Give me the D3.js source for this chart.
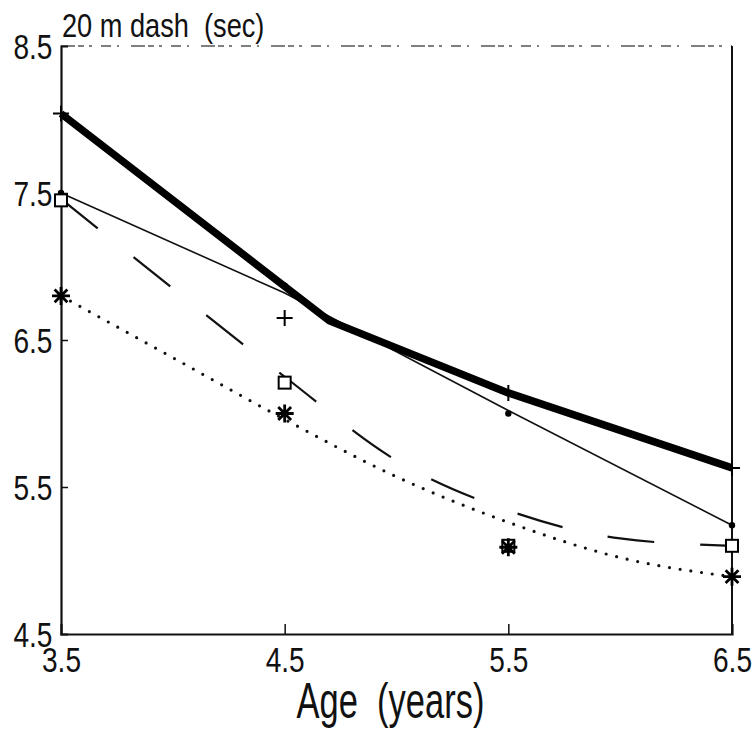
<!DOCTYPE html>
<meta charset="utf-8">
<script src="https://d3js.org/d3.v7.min.js"></script>
<style>
  body { margin: 0; background: #fff; }
  text { font-family: "Liberation Sans", Arial, sans-serif; fill: #111; white-space: pre; }
</style>
<div id="my_dataviz"></div>
<script>

// ages where the groups were measured
var ages = [3.5, 4.5, 5.5, 6.5];

// group means (markers)
var plusMeans   = [8.04, 6.65, 6.14, 5.63];
var dotMeans    = [7.50, 6.87, 6.00, 5.24];
var squareMeans = [7.45, 6.21, 5.10, 5.10];
var starMeans   = [6.80, 6.00, 5.09, 4.89];

// thick line (has a bend near 4.7 years)
var thickAges   = [3.5, 4.7, 5.5, 6.5];
var thickValues = [8.04, 6.63, 6.14, 5.63];

// thin line joins the dot means
var thinValues  = [7.50, 6.82, 6.02, 5.24];

// fitted curves, read every half year
var curveAges    = [3.5, 4.0, 4.5, 5.0, 5.5, 6.0, 6.5];
var dashedValues = [7.46, 6.85, 6.25, 5.68, 5.34, 5.15, 5.10];
var dottedValues = [6.80, 6.38, 5.96, 5.57, 5.26, 5.02, 4.89];

var xTicks = [3.5, 4.5, 5.5, 6.5];
var yTicks = [4.5, 5.5, 6.5, 7.5, 8.5];

var margin = { top: 46, right: 20, bottom: 96, left: 61 },
    width = 752 - margin.left - margin.right,
    height = 730 - margin.top - margin.bottom;

var svg = d3.select("#my_dataviz")
    .append("svg")
    .attr("width", 752)
    .attr("height", 730)
    .append("g")
    .attr("transform", "translate(" + margin.left + "," + margin.top + ")");

var x = d3.scaleLinear().domain([3.5, 6.5]).range([0, width]);
var y = d3.scaleLinear().domain([4.5, 8.5]).range([height, 0]);

// frame: top edge is broken in the original scan
svg.append("line")
    .attr("x1", 0).attr("x2", width).attr("y1", 0).attr("y2", 0)
    .attr("stroke", "#555").attr("stroke-width", 1.4)
    .attr("stroke-dasharray", "14,3,6,5,3,9,10,6,2,12");
svg.append("line")
    .attr("x1", width).attr("x2", width).attr("y1", 0).attr("y2", height)
    .attr("stroke", "#111").attr("stroke-width", 2);

// axes
var yAxis = svg.append("g")
    .call(d3.axisLeft(y).tickValues(yTicks).tickSize(-7).tickPadding(11)
        .tickFormat(d3.format(".1f")));
var xAxis = svg.append("g")
    .attr("transform", "translate(0," + height + ")")
    .call(d3.axisBottom(x).tickValues(xTicks).tickSize(-10).tickPadding(12)
        .tickFormat(d3.format(".1f")));

[yAxis, xAxis].forEach(function (a) {
    a.select(".domain").attr("stroke", "#111").attr("stroke-width", 2.2);
    a.selectAll(".tick line").attr("stroke", "#111").attr("stroke-width", 1.5);
    a.selectAll("text").attr("font-size", 36).attr("fill", "#111")
        .attr("transform", "scale(0.78,1)")
        .style("font-family", "'Liberation Sans', Arial, sans-serif");
});
yAxis.selectAll(".tick text").attr("dy", "0.35em");
// edge ticks hidden behind frame
yAxis.selectAll(".tick line").filter(function (d) { return d == 4.5 || d == 8.5; }).remove();
xAxis.selectAll(".tick line").filter(function (d) { return d == 3.5 || d == 6.5; }).remove();

// titles
svg.append("text")
    .attr("transform", "translate(1,-9) scale(0.8,1)")
    .attr("font-size", 34)
    .text("20 m dash  (sec)");

svg.append("text")
    .attr("transform", "translate(" + (width / 2 - 6) + "," + (height + 84) + ") scale(0.69,1)")
    .attr("text-anchor", "middle")
    .attr("font-size", 50)
    .text("Age  (years)");

// lines
var lin = d3.line().x(function (d) { return x(d[0]); }).y(function (d) { return y(d[1]); });
var smooth = d3.line().curve(d3.curveMonotoneX)
    .x(function (d) { return x(d[0]); }).y(function (d) { return y(d[1]); });

svg.append("path")
    .datum(d3.zip(curveAges, dottedValues))
    .attr("fill", "none").attr("stroke", "#111")
    .attr("stroke-width", 3.2).attr("stroke-linecap", "round")
    .attr("stroke-dasharray", "0,10.8")
    .attr("d", smooth);

svg.append("path")
    .datum(d3.zip(curveAges, dashedValues))
    .attr("fill", "none").attr("stroke", "#111")
    .attr("stroke-width", 2.2)
    .attr("stroke-dasharray", "47,46")
    .attr("d", smooth);

svg.append("path")
    .datum(d3.zip(ages, thinValues))
    .attr("fill", "none").attr("stroke", "#111")
    .attr("stroke-width", 1.6)
    .attr("d", lin);

svg.append("path")
    .datum(d3.zip(thickAges, thickValues))
    .attr("fill", "none").attr("stroke", "#000")
    .attr("stroke-width", 7.5).attr("stroke-linejoin", "round")
    .attr("d", lin);

// markers
var plus = svg.append("g").selectAll("g").data(d3.zip(ages, plusMeans)).enter().append("g")
    .attr("transform", function (d) { return "translate(" + x(d[0]) + "," + y(d[1]) + ")"; });
plus.append("path").attr("d", "M-8,0H8M0,-8V8")
    .attr("stroke", "#000").attr("stroke-width", 2);

svg.append("g").selectAll("circle").data(d3.zip(ages, dotMeans)).enter().append("circle")
    .attr("cx", function (d) { return x(d[0]); })
    .attr("cy", function (d) { return y(d[1]); })
    .attr("r", 3.2).attr("fill", "#000");

svg.append("g").selectAll("rect").data(d3.zip(ages, squareMeans)).enter().append("rect")
    .attr("x", function (d) { return x(d[0]) - 6; })
    .attr("y", function (d) { return y(d[1]) - 6; })
    .attr("width", 12).attr("height", 12)
    .attr("fill", "#fff").attr("stroke", "#000").attr("stroke-width", 2);

var star = svg.append("g").selectAll("g").data(d3.zip(ages, starMeans)).enter().append("g")
    .attr("transform", function (d) { return "translate(" + x(d[0]) + "," + y(d[1]) + ")"; });
star.append("path")
    .attr("d", "M-9,0H9M0,-9V9M-6.4,-6.4L6.4,6.4M-6.4,6.4L6.4,-6.4")
    .attr("stroke", "#000").attr("stroke-width", 2.8);

</script>
